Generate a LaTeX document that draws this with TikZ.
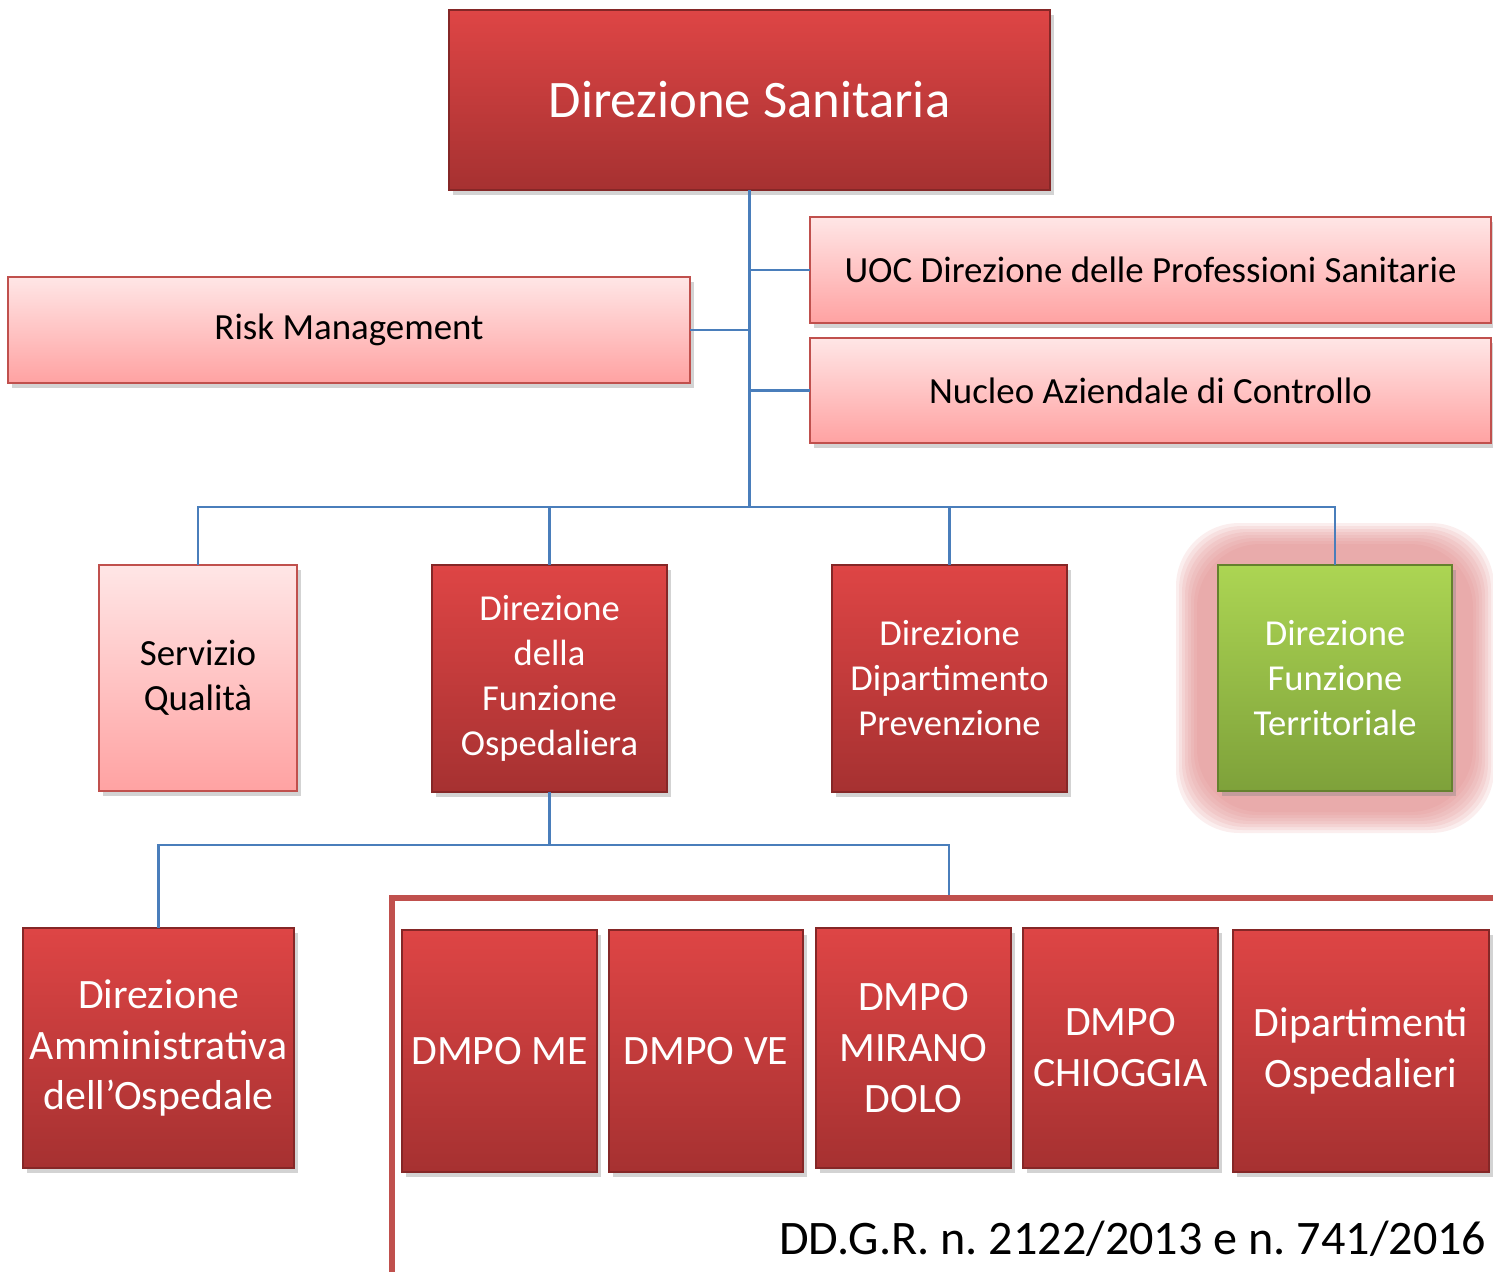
\documentclass[tikz,border=0pt]{standalone}
\usepackage{fontspec}
\setmainfont{Carlito}
\usetikzlibrary{shadows,backgrounds}
\definecolor{redtop}{HTML}{DE4545}
\definecolor{redbot}{HTML}{A63131}
\definecolor{pinktop}{HTML}{FFE6E6}
\definecolor{pinkbot}{HTML}{FFA2A2}
\definecolor{greentop}{HTML}{ACD553}
\definecolor{greenbot}{HTML}{7EA13A}
\definecolor{edge}{HTML}{C0504D}
\definecolor{conncol}{HTML}{4A7EBB}
\definecolor{glowcol}{HTML}{E08888}
\frenchspacing
\tikzset{
  box/.style={rectangle, inner sep=0pt, outer sep=0pt, align=center, line width=0.4pt,
    drop shadow={shadow xshift=0.4mm, shadow yshift=-0.5mm, opacity=0.35}},
  redbox/.style={box, draw=redbot!80!black, top color=redtop, bottom color=redbot, text=white},
  pinkbox/.style={box, draw=edge, top color=pinktop, bottom color=pinkbot, text=black,
    font=\fontsize{10.5}{12.8}\selectfont},
  greenbox/.style={box, draw=greenbot!80!black, top color=greentop, bottom color=greenbot, text=white},
  midtext/.style={font=\fontsize{10.4}{12.8}\selectfont},
  lowtext/.style={font=\fontsize{11.9}{14.5}\selectfont},
  conn/.style={draw=conncol, line width=0.6pt}
}
\begin{document}
\begin{tikzpicture}[x=0.1mm,y=-0.1mm]
\useasboundingbox (0,0) rectangle (1493,1272);
\node[redbox, minimum width=60.1mm, minimum height=18mm, font=\fontsize{15}{18}\selectfont] (ds) at (749.5,100) {Direzione Sanitaria};
\node[pinkbox, minimum width=68.1mm, minimum height=10.6mm] (uoc) at (1150.5,270) {UOC Direzione delle Professioni Sanitarie};
\node[pinkbox, minimum width=68.1mm, minimum height=10.5mm] (nac) at (1150.5,390.5) {Nucleo Aziendale di Controllo};
\node[pinkbox, minimum width=68.2mm, minimum height=10.6mm] (risk) at (349,330) {Risk Management};
\node[pinkbox, minimum width=19.8mm, minimum height=22.6mm] (sq) at (198,678) {Servizio\\Qualità};
\node[redbox, midtext, minimum width=23.5mm, minimum height=22.7mm] (dfo) at (549.5,678.5) {Direzione\\della\\Funzione\\Ospedaliera};
\node[redbox, midtext, minimum width=23.5mm, minimum height=22.7mm] (ddp) at (949.5,678.5) {Direzione\\Dipartimento\\Prevenzione};
\node[greenbox, midtext, minimum width=23.4mm, minimum height=22.6mm] (dft) at (1335,678) {Direzione\\Funzione\\Territoriale};
\node[redbox, lowtext, minimum width=27.1mm, minimum height=24mm] (dam) at (158.5,1048) {Direzione\\Amministrativa\\dell’Ospedale};
\node[redbox, lowtext, minimum width=19.5mm, minimum height=24.2mm] (me) at (499.5,1051) {DMPO ME};
\node[redbox, lowtext, minimum width=19.4mm, minimum height=24.2mm] (ve) at (706,1051) {DMPO VE};
\node[redbox, lowtext, minimum width=19.5mm, minimum height=24mm] (mir) at (913.5,1048) {DMPO\\MIRANO\\DOLO};
\node[redbox, lowtext, minimum width=19.5mm, minimum height=24mm] (chi) at (1120.5,1048) {DMPO\\CHIOGGIA};
\node[redbox, lowtext, minimum width=25.6mm, minimum height=24.2mm] (dip) at (1361,1051) {Dipartimenti\\Ospedalieri};
\node[anchor=east, inner sep=0pt, font=\fontsize{13.7}{16}\selectfont] (dgr) at (1487,1239) {DD.G.R. n. 2122/2013 e n. 741/2016};
\coordinate (bus) at (749.5,507);
\coordinate (bus2) at (549.5,845);
\coordinate (ftop) at (949,898);
\begin{scope}[on background layer]
\foreach \d in {42,39,...,21}
  \fill[glowcol, opacity=0.14, rounded corners=18] ([shift={(-\d,-\d)}]dft.north west) rectangle ([shift={(\d,\d)}]dft.south east);
\end{scope}
\draw[conn] (ds.south) -- (bus);
\draw[conn] (uoc.west) -- (uoc.west -| ds.south);
\draw[conn] (nac.west) -- (nac.west -| ds.south);
\draw[conn] (risk.east) -- (risk.east -| ds.south);
\draw[conn] (sq.north) |- (bus) -| (dft.north);
\draw[conn] (dfo.north) -- (dfo.north |- bus);
\draw[conn] (ddp.north) -- (ddp.north |- bus);
\draw[conn] (dfo.south) -- (bus2);
\draw[conn] (dam.north) |- (bus2) -| (ftop);
\draw[edge, line width=1.5pt] (392,1272) |- (1493,898);
\end{tikzpicture}
\end{document}
